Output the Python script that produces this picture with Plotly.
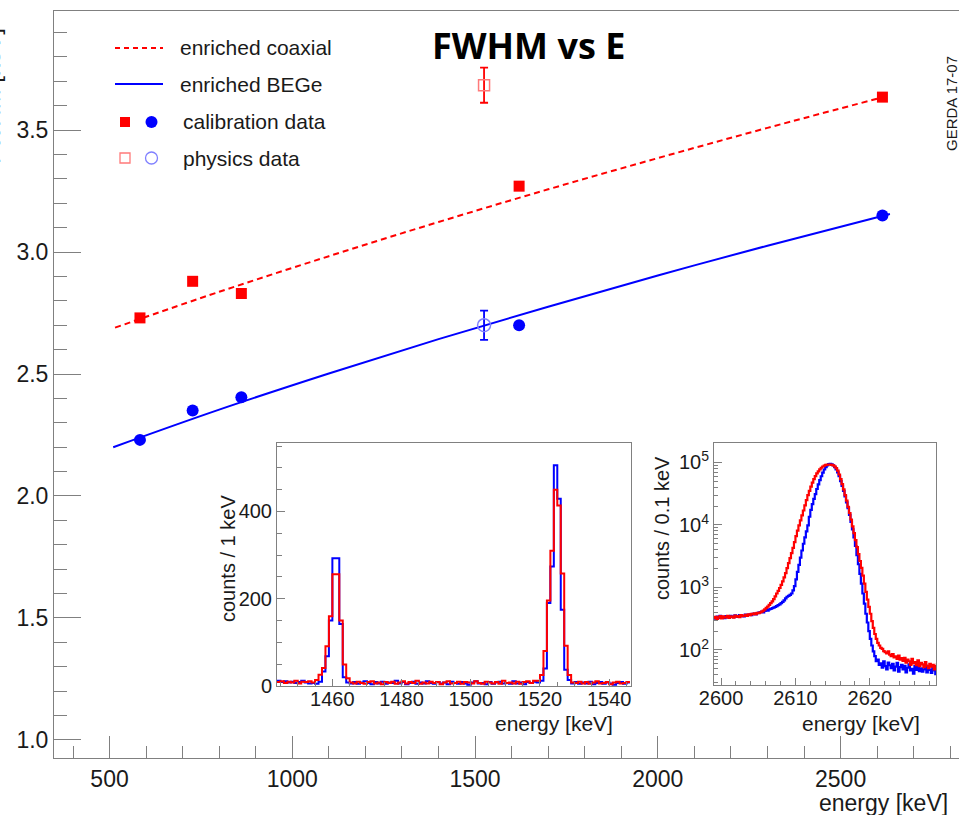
import numpy as np
import plotly.graph_objects as go

# ================= main panel data =================
cal_energy = [583.2, 727.3, 860.6, 1620.5, 2614.5]
coax_cal_fwhm = [2.73, 2.88, 2.83, 3.27, 3.635]
bege_cal_fwhm = [2.23, 2.35, 2.405, 2.70, 3.15]
phys_energy = [1524.6]
coax_phys_fwhm = [3.684]
coax_phys_err = [0.072]
bege_phys_fwhm = [2.70]
bege_phys_err = [0.06]
coax_fit_energy = [515, 800, 1100, 1400, 1700, 2000, 2300, 2630]
coax_fit_fwhm = [2.690, 2.837, 2.983, 3.123, 3.257, 3.385, 3.509, 3.640]
bege_fit_energy = [510, 800, 1100, 1400, 1700, 2000, 2300, 2635]
bege_fit_fwhm = [2.200, 2.354, 2.502, 2.643, 2.776, 2.904, 3.026, 3.156]
legend_labels = ["enriched coaxial", "enriched BEGe", "calibration data", "physics data"]

# ================= inset 1: 1 keV bins, lower edges 1444 ... 1545 =================
inset1_bin_low = list(range(1444, 1546))
inset1_bege = ([12, 9, 11, 8, 10, 7, 9, 12, 8, 6, 7]
               + [5, 10, 33, 68, 150, 293, 293, 142, 20, 8]
               + [6, 9, 5, 8, 11, 7, 4, 9, 6, 10,
                  5, 8, 7, 12, 6, 9, 4, 7, 10, 5,
                  8, 6, 11, 7, 5, 9, 6, 8, 4, 10,
                  7, 5, 9, 6, 3, 8, 11, 6, 7, 4,
                  9, 5, 8, 10, 6, 7, 5, 11, 6, 8,
                  4, 9, 7, 10]
               + [8, 12, 40, 190, 274, 506, 429, 175, 37, 14, 6]
               + [9, 5, 8, 6, 10, 4, 7, 9, 5, 8, 6, 3, 7, 9, 5, 8])
inset1_coax = ([9, 11, 7, 10, 8, 12, 6, 10, 9, 11, 8]
               + [14, 26, 41, 91, 160, 256, 256, 150, 49, 18]
               + [8, 6, 10, 7, 5, 9, 11, 6, 8, 4,
                  9, 7, 10, 5, 8, 11, 6, 9, 7, 12,
                  5, 8, 6, 10, 7, 9, 4, 8, 11, 6,
                  7, 10, 5, 9, 8, 6, 11, 7, 5, 10,
                  8, 6, 9, 5, 12, 7, 8, 6, 10, 5,
                  9, 11, 7, 12]
               + [12, 25, 80, 196, 310, 450, 414, 258, 92, 25, 8]
               + [7, 10, 6, 9, 5, 8, 11, 6, 7, 9, 4, 8, 10, 6, 7, 9])

# ================= inset 2: 0.2 keV samples, 2599.0 ... 2629.0 =================
inset2_energy = [round(2599.0 + 0.2 * i, 1) for i in range(151)]
inset2_bege = ([335, 318, 342, 326, 350, 331, 339, 322, 347, 336,
                329, 352, 341, 334, 358, 345, 338, 362, 349, 355,
                343, 368, 357, 364, 372, 360, 377, 383, 371, 389, 395]
               + [402, 410, 398, 421, 433, 427, 445, 452, 468, 474,
                  489, 502, 521, 538, 560, 588, 622, 668, 710, 735]
               + [760, 800, 900, 1050, 1350, 1770, 2300, 3000, 3900, 5000,
                  6300, 7900, 9800, 13500, 17400, 21500, 26000, 31000, 37500, 44500,
                  52000, 60000, 68500, 77000, 84000, 89500, 93500, 94500, 93000, 89500,
                  84000, 77000, 69000, 60000, 50000, 42000, 35000, 28500, 23000, 18500,
                  14500, 11200, 8500, 6300, 4600, 3300, 2350, 1650, 1150, 800,
                  550, 380, 275, 200, 150, 118, 95, 80, 66]
               + [70, 58, 61, 52, 66, 55, 49, 63, 57, 51,
                  60, 47, 54, 62, 45, 53, 58, 49, 56, 44,
                  52, 59, 47, 50, 42, 55, 48, 53, 46, 51,
                  45, 49, 57, 44, 50, 48, 43, 52, 47, 41, 50])
inset2_coax = ([322, 340, 315, 333, 348, 319, 344, 328, 336, 352,
                325, 346, 338, 330, 355, 341, 349, 336, 360, 347,
                353, 366, 350, 371, 362, 378, 369, 384, 375, 392, 388]
               + [400, 410, 425, 445, 470, 495, 525, 560, 600, 650,
                  720, 800, 880, 980, 1100, 1250, 1450, 1700, 2040, 2450]
               + [2950, 3550, 4300, 5300, 6600, 8100, 9800, 11800, 14200, 17000,
                  20500, 25000, 30000, 35000, 41000, 47500, 54000, 60500, 66500, 72000,
                  77500, 82000, 86000, 89000, 91000, 92000, 92500, 92000, 91000, 89500,
                  86500, 81000, 74000, 64000, 54000, 45000, 37000, 30000, 24500, 19500,
                  15500, 12200, 9500, 7400, 5700, 4400, 3400, 2650, 2050, 1550,
                  1150, 850, 640, 490, 380, 290, 225, 180, 150]
               + [130, 118, 108, 104, 96, 92, 88, 95, 84, 80,
                  86, 76, 79, 72, 81, 70, 74, 67, 75, 63,
                  70, 66, 58, 72, 61, 64, 57, 68, 55, 62,
                  59, 53, 64, 56, 51, 60, 54, 58, 49, 55, 61])

for name, arr, n in [("inset1_bege", inset1_bege, 102), ("inset1_coax", inset1_coax, 102),
                     ("inset2_bege", inset2_bege, 151), ("inset2_coax", inset2_coax, 151)]:
    if len(arr) != n:
        raise SystemExit(f"{name} has {len(arr)} values, expected {n}")

# ================= styling =================
W, H = 959, 815
ML, MR, MT, MB = 54, 0, 11, 57
PW, PH = W - ML - MR, H - MT - MB
RED = "#ff0000"
BLUE = "#0000ff"
AX = "#808080"
TXT = "#1a1a1a"
FONT = "Liberation Sans, Arial, sans-serif"


def px(x):
    return (x - ML) / PW


def py(y):
    return (MT + PH - y) / PH


fig = go.Figure()

# ---- main panel
fig.add_trace(go.Scatter(x=coax_fit_energy, y=coax_fit_fwhm, mode="lines",
                         line=dict(color=RED, width=2, dash="6px,4px", shape="spline"),
                         showlegend=False, hoverinfo="skip"))
fig.add_trace(go.Scatter(x=bege_fit_energy, y=bege_fit_fwhm, mode="lines",
                         line=dict(color=BLUE, width=2, shape="spline"),
                         showlegend=False, hoverinfo="skip"))
fig.add_trace(go.Scatter(x=cal_energy, y=coax_cal_fwhm, mode="markers",
                         marker=dict(symbol="square", size=11, color=RED, line=dict(width=0)),
                         showlegend=False))
fig.add_trace(go.Scatter(x=cal_energy, y=bege_cal_fwhm, mode="markers",
                         marker=dict(symbol="circle", size=12, color=BLUE, line=dict(width=0)),
                         showlegend=False))
fig.add_trace(go.Scatter(x=phys_energy, y=coax_phys_fwhm, mode="markers",
                         marker=dict(symbol="square-open", size=11, color="#ff7a7a", line=dict(width=1.5)),
                         error_y=dict(type="data", array=coax_phys_err, color=RED, thickness=1.8, width=4),
                         showlegend=False))
fig.add_trace(go.Scatter(x=phys_energy, y=bege_phys_fwhm, mode="markers",
                         marker=dict(symbol="circle-open", size=13, color="#8080ff", line=dict(width=1.5)),
                         error_y=dict(type="data", array=bege_phys_err, color=BLUE, thickness=1.8, width=4),
                         showlegend=False))

# ---- inset 1 (step histograms)
edges1 = inset1_bin_low + [inset1_bin_low[-1] + 1]
fig.add_trace(go.Scatter(x=edges1, y=inset1_bege + [inset1_bege[-1]], mode="lines",
                         line=dict(color=BLUE, width=2, shape="hv"), xaxis="x2", yaxis="y2",
                         showlegend=False))
fig.add_trace(go.Scatter(x=edges1, y=inset1_coax + [inset1_coax[-1]], mode="lines",
                         line=dict(color=RED, width=2, shape="hv"), xaxis="x2", yaxis="y2",
                         showlegend=False))

# ---- inset 2
fig.add_trace(go.Scatter(x=inset2_energy, y=inset2_bege, mode="lines",
                         line=dict(color=BLUE, width=2.2, shape="hv"), xaxis="x3", yaxis="y3",
                         showlegend=False))
fig.add_trace(go.Scatter(x=inset2_energy, y=inset2_coax, mode="lines",
                         line=dict(color=RED, width=2.2, shape="hv"), xaxis="x3", yaxis="y3",
                         showlegend=False))


def axis(**kw):
    base = dict(showline=True, linecolor=AX, linewidth=1, showgrid=False, zeroline=False,
                ticks="inside", tickcolor=AX, tickwidth=1,
                tickfont=dict(family=FONT, size=20, color=TXT))
    base.update(kw)
    return base


minor_log = [m * 10 ** e for e in range(1, 6) for m in range(2, 10)]

fig.update_layout(
    width=W, height=H, autosize=False,
    margin=dict(l=ML, r=MR, t=MT, b=MB, pad=0),
    paper_bgcolor="white", plot_bgcolor="white",
    showlegend=False,
    xaxis=axis(domain=[0, 1], range=[348, 2824], mirror=True, ticklen=22, dtick=500, tick0=0,
               tickfont=dict(family=FONT, size=23, color=TXT),
               minor=dict(dtick=100, ticks="inside", ticklen=12, tickcolor=AX)),
    yaxis=axis(domain=[0, 1], range=[0.926, 3.988], ticklen=27, dtick=0.5, tick0=0,
               tickformat=".1f", tickfont=dict(family=FONT, size=23, color=TXT),
               minor=dict(dtick=0.1, ticks="inside", ticklen=13, tickcolor=AX)),
    xaxis2=axis(domain=[px(277), px(631)], anchor="y2", range=[1444, 1546.3], mirror=True,
                ticklen=7, dtick=20, tick0=0, ticklabelstandoff=-5,
                minor=dict(dtick=5, ticks="inside", ticklen=4, tickcolor=AX)),
    yaxis2=axis(domain=[py(686), py(443)], anchor="x2", range=[0, 557], mirror=True,
                ticklen=8, dtick=200, tick0=0,
                minor=dict(dtick=50, ticks="inside", ticklen=5, tickcolor=AX)),
    xaxis3=axis(domain=[px(714), px(936)], anchor="y3", range=[2599.05, 2628.9], mirror=True,
                ticklen=7, dtick=10, tick0=0, ticklabelstandoff=-5,
                minor=dict(dtick=2, ticks="inside", ticklen=4, tickcolor=AX)),
    yaxis3=axis(type="log", domain=[py(685), py(443)], anchor="x3", range=[1.44, 5.31], mirror=True,
                ticklen=8, tickmode="array", tickvals=[1e2, 1e3, 1e4, 1e5],
                ticktext=["10<sup>2</sup>", "10<sup>3</sup>", "10<sup>4</sup>", "10<sup>5</sup>"],
                minor=dict(tickmode="array", tickvals=minor_log, ticks="inside", ticklen=4, tickcolor=AX)),
)

# ---- hand-drawn legend (two symbols per row as in the original)
shapes = []
shapes.append(dict(type="line", xref="paper", yref="paper", x0=px(115), x1=px(163), y0=py(48), y1=py(48),
                   line=dict(color=RED, width=2, dash="5px,4px")))
shapes.append(dict(type="line", xref="paper", yref="paper", x0=px(115), x1=px(163), y0=py(84), y1=py(84),
                   line=dict(color=BLUE, width=2)))
shapes.append(dict(type="rect", xref="paper", yref="paper", x0=px(120), x1=px(130), y0=py(127), y1=py(117),
                   fillcolor=RED, line=dict(width=0)))
shapes.append(dict(type="circle", xref="paper", yref="paper", x0=px(145.5), x1=px(157.5), y0=py(128), y1=py(116),
                   fillcolor=BLUE, line=dict(width=0)))
shapes.append(dict(type="rect", xref="paper", yref="paper", x0=px(120), x1=px(130), y0=py(163), y1=py(153),
                   fillcolor="white", line=dict(color="#ff7a7a", width=1.3)))
shapes.append(dict(type="circle", xref="paper", yref="paper", x0=px(145.5), x1=px(157.5), y0=py(164), y1=py(152),
                   fillcolor="white", line=dict(color="#8080ff", width=1.3)))
fig.update_layout(shapes=shapes)

ann = []
for lab, ytext, xtext in zip(legend_labels, [48, 84, 122, 158], [178, 178, 181, 181]):
    ann.append(dict(text=lab, x=px(xtext), y=py(ytext), xref="paper", yref="paper",
                    xanchor="left", yanchor="middle", showarrow=False,
                    font=dict(family=FONT, size=21, color=TXT)))

# title
ann.append(dict(text="<b>FWHM vs E</b>", x=px(528), y=py(45), xref="paper", yref="paper",
                xanchor="center", yanchor="middle", showarrow=False,
                font=dict(family="Open Sans, sans-serif", size=36, color="black")))
# GERDA label
ann.append(dict(text="GERDA 17-07", x=px(951), y=py(104), xref="paper", yref="paper",
                xanchor="center", yanchor="middle", showarrow=False, textangle=-90,
                font=dict(family=FONT, size=15, color=TXT)))
# main y title (mostly outside the picture, as in the original)
ann.append(dict(text="FWHM [keV]", x=px(7.5), y=py(96), xref="paper", yref="paper",
                xanchor="right", yanchor="middle", showarrow=False, textangle=-90,
                font=dict(family=FONT, size=24, color=TXT)))
# main x title
ann.append(dict(text="energy [keV]", x=px(950), y=py(803), xref="paper", yref="paper",
                xanchor="right", yanchor="middle", showarrow=False,
                font=dict(family=FONT, size=23, color=TXT)))
# inset titles
ann.append(dict(text="energy [keV]", x=px(615), y=py(723), xref="paper", yref="paper",
                xanchor="right", yanchor="middle", showarrow=False,
                font=dict(family=FONT, size=21, color=TXT)))
ann.append(dict(text="energy [keV]", x=px(922), y=py(723), xref="paper", yref="paper",
                xanchor="right", yanchor="middle", showarrow=False,
                font=dict(family=FONT, size=21, color=TXT)))
ann.append(dict(text="counts / 1 keV", x=px(228), y=py(559), xref="paper", yref="paper",
                xanchor="center", yanchor="middle", showarrow=False, textangle=-90,
                font=dict(family=FONT, size=20, color=TXT)))
ann.append(dict(text="counts / 0.1 keV", x=px(662), y=py(528), xref="paper", yref="paper",
                xanchor="center", yanchor="middle", showarrow=False, textangle=-90,
                font=dict(family=FONT, size=20, color=TXT)))
fig.update_layout(annotations=ann)

fig.write_html("out.html")
